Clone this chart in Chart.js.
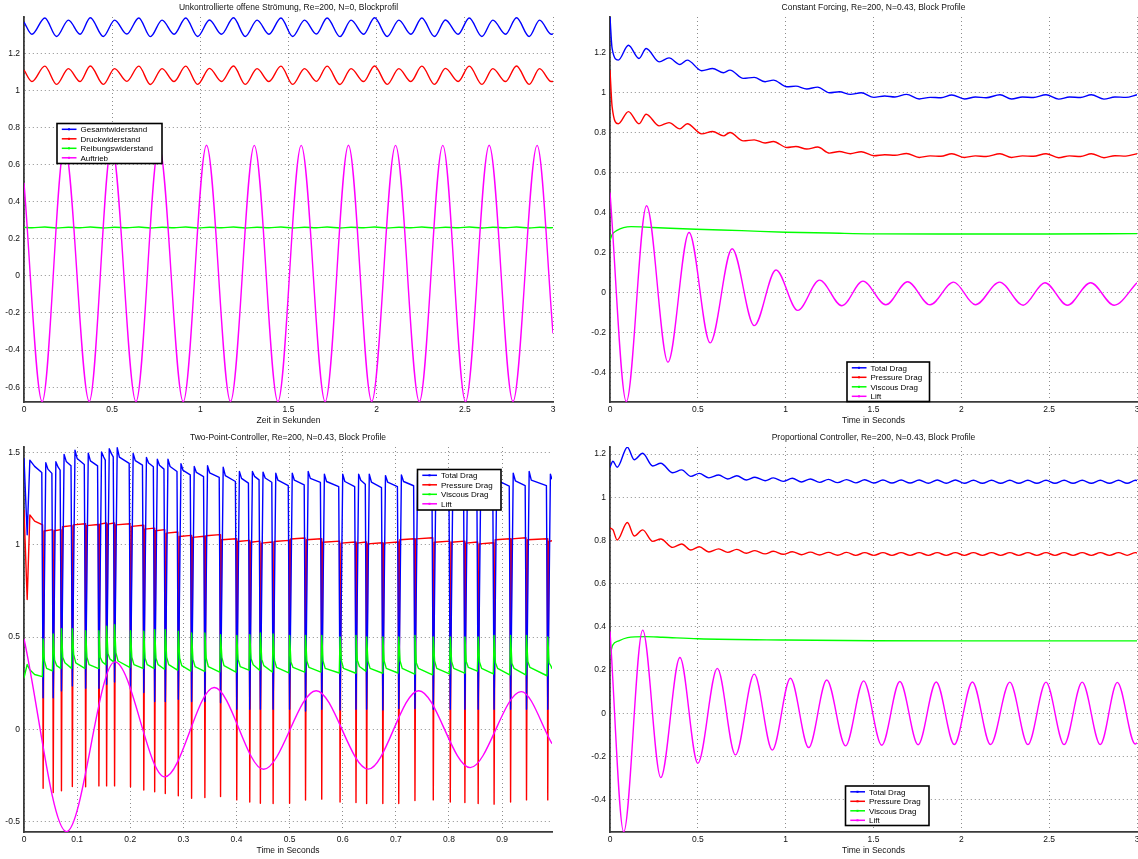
<!DOCTYPE html>
<html>
<head>
<meta charset="utf-8">
<title>Widerstand und Auftrieb</title>
<script src="https://cdn.jsdelivr.net/npm/chart.js@4.4.1/dist/chart.umd.min.js"></script>
<style>
  html, body { margin: 0; padding: 0; background: #fff; width: 1138px; height: 859px; overflow: hidden; }
  canvas { position: absolute; }
</style>
</head>
<body>
<canvas id="uncontrolled" width="569" height="430" style="left:0px;top:0px"></canvas>
<canvas id="forcing" width="581" height="430" style="left:569px;top:0px"></canvas>
<canvas id="twopoint" width="569" height="430" style="left:0px;top:430px"></canvas>
<canvas id="proportional" width="581" height="430" style="left:569px;top:430px"></canvas>
<script>
// ---------- Uncontrolled open flow, Re=200, N=0 ----------
const uncontrolledDragTime = [0, 0.045, 0.118, 0.185, 0.252, 0.318, 0.376, 0.450, 0.514, 0.583, 0.651, 0.717, 0.783, 0.851, 0.917, 0.985, 1.052, 1.120, 1.188, 1.255, 1.322, 1.389, 1.457, 1.524, 1.591, 1.658, 1.719, 1.792, 1.855, 1.926, 1.988, 2.060, 2.126, 2.194, 2.256, 2.328, 2.390, 2.462, 2.525, 2.597, 2.659, 2.731, 2.793, 2.865, 2.924, 2.990, 3.0];
const uncontrolledTotal = [1.368,
  1.302, 1.390, 1.290, 1.378, 1.302, 1.391, 1.290, 1.378, 1.303, 1.390, 1.289, 1.378,
  1.302, 1.390, 1.290, 1.379, 1.302, 1.391, 1.290, 1.378, 1.302, 1.390, 1.290, 1.378,
  1.303, 1.390, 1.289, 1.378, 1.302, 1.391, 1.290, 1.378, 1.302, 1.390, 1.290, 1.379,
  1.302, 1.390, 1.290, 1.378, 1.302, 1.391, 1.290, 1.378, 1.302, 1.304];
const uncontrolledPressure = [1.109,
  1.047, 1.130, 1.032, 1.117, 1.047, 1.131, 1.032, 1.117, 1.048, 1.130, 1.031, 1.117,
  1.047, 1.130, 1.032, 1.118, 1.047, 1.131, 1.032, 1.117, 1.047, 1.130, 1.032, 1.117,
  1.048, 1.130, 1.031, 1.117, 1.047, 1.131, 1.032, 1.117, 1.047, 1.130, 1.032, 1.118,
  1.047, 1.130, 1.032, 1.117, 1.047, 1.131, 1.032, 1.117, 1.047, 1.048];
const uncontrolledViscous = [0.261,
  0.259, 0.263, 0.258, 0.262, 0.259, 0.263, 0.258, 0.262, 0.259, 0.263, 0.258, 0.262,
  0.259, 0.263, 0.258, 0.262, 0.259, 0.263, 0.258, 0.262, 0.259, 0.263, 0.258, 0.262,
  0.259, 0.263, 0.258, 0.262, 0.259, 0.263, 0.258, 0.262, 0.259, 0.263, 0.258, 0.262,
  0.259, 0.263, 0.258, 0.262, 0.259, 0.263, 0.258, 0.262, 0.259, 0.260];
const uncontrolledLiftTime = [0, 0.103, 0.230, 0.370, 0.497, 0.635, 0.765, 0.903, 1.035, 1.171, 1.306, 1.440, 1.572, 1.708, 1.840, 1.972, 2.107, 2.242, 2.375, 2.504, 2.638, 2.773, 2.910, 3.0];
const uncontrolledLift = [0.50, -0.678, 0.703, -0.677, 0.704, -0.678, 0.703, -0.678, 0.704, -0.677, 0.703, -0.678, 0.703, -0.678, 0.704, -0.677, 0.703, -0.678, 0.703, -0.678, 0.704, -0.677, 0.703, -0.31];
const uncontrolledXTicks = [0, 0.5, 1, 1.5, 2, 2.5, 3];
const uncontrolledYTicks = [-0.6, -0.4, -0.2, 0, 0.2, 0.4, 0.6, 0.8, 1, 1.2];

// ---------- Constant forcing, Re=200, N=0.43 ----------
const forcingDragTime = [0, 0.012, 0.047, 0.105, 0.165, 0.206, 0.28, 0.336, 0.398, 0.44, 0.522, 0.584, 0.646, 0.683, 0.759, 0.821, 0.883, 0.930, 1.007, 1.058, 1.12, 1.182, 1.25, 1.306, 1.368, 1.43, 1.502, 1.564, 1.622, 1.688, 1.76, 1.822, 1.884, 1.946, 2.018, 2.08, 2.141, 2.22, 2.286, 2.348, 2.41, 2.482, 2.554, 2.616, 2.678, 2.74, 2.812, 2.874, 2.936, 3.0];
const forcingTotal = [1.376, 1.219, 1.161, 1.235, 1.169, 1.219, 1.152, 1.172, 1.139, 1.161, 1.108, 1.119, 1.098, 1.111, 1.070, 1.075, 1.053, 1.061, 1.028, 1.031, 1.017, 1.026, 0.998, 1.003, 0.990, 0.998, 0.975, 0.982, 0.977, 0.990, 0.967, 0.975, 0.973, 0.987, 0.967, 0.977, 0.973, 0.988, 0.967, 0.977, 0.974, 0.988, 0.966, 0.977, 0.974, 0.988, 0.966, 0.977, 0.975, 0.988];
const forcingPressure = [1.111, 0.929, 0.843, 0.904, 0.843, 0.891, 0.833, 0.849, 0.818, 0.843, 0.793, 0.805, 0.783, 0.800, 0.758, 0.763, 0.747, 0.755, 0.725, 0.730, 0.717, 0.727, 0.697, 0.705, 0.694, 0.704, 0.684, 0.689, 0.686, 0.695, 0.675, 0.683, 0.681, 0.694, 0.675, 0.683, 0.680, 0.694, 0.675, 0.683, 0.681, 0.694, 0.674, 0.683, 0.680, 0.694, 0.674, 0.684, 0.682, 0.694];
const forcingViscousTime = [0, 0.012, 0.037, 0.12, 0.24, 0.49, 0.75, 1.0, 1.25, 1.5, 2.0, 2.5, 3.0];
const forcingViscous = [0.262, 0.29, 0.31, 0.33, 0.326, 0.317, 0.31, 0.302, 0.298, 0.294, 0.293, 0.293, 0.295];
const forcingLiftTime = [0, 0.093, 0.208, 0.33, 0.45, 0.57, 0.695, 0.821, 0.945, 1.069, 1.193, 1.32, 1.44, 1.57, 1.694, 1.822, 1.956, 2.08, 2.218, 2.352, 2.476, 2.604, 2.736, 2.87, 3.0];
const forcingLift = [0.50, -0.543, 0.434, -0.346, 0.301, -0.25, 0.220, -0.164, 0.114, -0.088, 0.063, -0.065, 0.058, -0.060, 0.055, -0.060, 0.053, -0.060, 0.053, -0.062, 0.050, -0.062, 0.050, -0.062, 0.050];
const forcingXTicks = [0, 0.5, 1, 1.5, 2, 2.5, 3];
const forcingYTicks = [-0.4, -0.2, 0, 0.2, 0.4, 0.6, 0.8, 1, 1.2];

// ---------- Two-point controller, Re=200, N=0.43 ----------
const controllerStartTime = [0, 0.006, 0.011, 0.02];
const controllerStartTotal = [1.47, 1.054, 1.459, 1.425];
const controllerStartPressure = [1.19, 0.703, 1.162, 1.128];
const controllerStartViscous = [0.279, 0.351, 0.322, 0.297];
const switchTime = [0.036, 0.055, 0.0705, 0.091, 0.116, 0.141, 0.1555, 0.1705, 0.2005, 0.2255,
  0.246, 0.266, 0.2905, 0.3155, 0.3405, 0.370, 0.4005, 0.425, 0.445, 0.469,
  0.500, 0.530, 0.5605, 0.595, 0.625, 0.645, 0.6755, 0.7055, 0.736, 0.7705,
  0.8025, 0.830, 0.855, 0.885, 0.916, 0.946, 0.986];
// sampling around each switching instant: [lead before, lag after, decay sample]
const totalSwitchTiming = [0.0025, 0.005, 0.009];
const pressureSwitchTiming = [0.001, 0.002, null];
const viscousSwitchTiming = [0.0015, 0.0025, 0.0065];
const totalBeforeSwitch = [1.392, 1.387, 1.405, 1.428, 1.435, 1.428, 1.459, 1.477, 1.441, 1.432,
  1.423, 1.41, 1.397, 1.379, 1.37, 1.365, 1.343, 1.334, 1.352, 1.339,
  1.32, 1.325, 1.338, 1.315, 1.315, 1.328, 1.31, 1.315, 1.32, 1.316,
  1.316, 1.318, 1.329, 1.316, 1.318, 1.32, 1.321];
const totalAtSwitch = [0.171, 0.171, 0.208, 0.235, 0.222, 0.222, 0.244, 0.256, 0.217, 0.199,
  0.15, 0.15, 0.162, 0.15, 0.15, 0.144, 0.108, 0.108, 0.108, 0.108,
  0.108, 0.099, 0.108, 0.105, 0.108, 0.108, 0.105, 0.112, 0.112, 0.108,
  0.108, 0.108, 0.108, 0.108, 0.108, 0.108, 0.108];
const totalAfterSwitch = [1.445, 1.45, 1.49, 1.513, 1.496, 1.503, 1.521, 1.526, 1.495, 1.473,
  1.464, 1.464, 1.439, 1.424, 1.428, 1.42, 1.397, 1.397, 1.394, 1.388,
  1.388, 1.397, 1.383, 1.383, 1.383, 1.383, 1.375, 1.379, 1.388, 1.385,
  1.38, 1.376, 1.37, 1.385, 1.388, 1.397, 1.383];
const totalDecaying = [1.41, 1.422, 1.452, 1.468, 1.455, 1.476, 1.494, 1.475, 1.456, 1.443,
  1.431, 1.424, 1.403, 1.392, 1.39, 1.375, 1.36, 1.371, 1.362, 1.35,
  1.35, 1.36, 1.343, 1.343, 1.35, 1.34, 1.34, 1.343, 1.345, 1.344,
  1.344, 1.348, 1.338, 1.345, 1.347, 1.35, 1.362];
const pressureBeforeSwitch = [1.108, 1.082, 1.082, 1.104, 1.114, 1.11, 1.118, 1.118, 1.114, 1.106,
  1.09, 1.082, 1.069, 1.051, 1.046, 1.055, 1.033, 1.024, 1.02, 1.015,
  1.024, 1.037, 1.033, 1.02, 1.015, 1.015, 1.011, 1.015, 1.033, 1.038,
  1.02, 1.02, 1.015, 1.011, 1.033, 1.038, 1.033];
const pressureAtSwitch = [-0.32, -0.343, -0.334, -0.31, -0.312, -0.307, -0.307, -0.307, -0.312, -0.329,
  -0.339, -0.348, -0.361, -0.374, -0.37, -0.365, -0.383, -0.394, -0.401, -0.403,
  -0.401, -0.384, -0.379, -0.394, -0.397, -0.403, -0.403, -0.403, -0.386, -0.383,
  -0.394, -0.397, -0.403, -0.406, -0.394, -0.383, -0.383];
const pressureAfterSwitch = [1.075, 1.076, 1.098, 1.108, 1.104, 1.112, 1.112, 1.108, 1.1, 1.085,
  1.076, 1.063, 1.045, 1.04, 1.049, 1.027, 1.018, 1.014, 1.009, 1.018,
  1.031, 1.027, 1.014, 1.009, 1.009, 1.005, 1.009, 1.027, 1.032, 1.014,
  1.014, 1.009, 1.005, 1.027, 1.032, 1.027, 1.018];
const viscousBeforeSwitch = [0.285, 0.316, 0.33, 0.33, 0.33, 0.33, 0.35, 0.365, 0.335, 0.33,
  0.33, 0.325, 0.32, 0.315, 0.315, 0.31, 0.31, 0.32, 0.32, 0.31,
  0.305, 0.31, 0.31, 0.305, 0.305, 0.315, 0.305, 0.305, 0.3, 0.295,
  0.3, 0.305, 0.315, 0.3, 0.295, 0.295, 0.29];
const viscousAtSwitch = [0.489, 0.516, 0.545, 0.545, 0.534, 0.534, 0.558, 0.567, 0.534, 0.531,
  0.54, 0.54, 0.531, 0.522, 0.522, 0.513, 0.509, 0.513, 0.522, 0.516,
  0.509, 0.509, 0.509, 0.5, 0.509, 0.5, 0.5, 0.5, 0.509, 0.5,
  0.5, 0.5, 0.5, 0.509, 0.509, 0.509, 0.5];
const viscousAfterSwitch = [0.37, 0.375, 0.39, 0.405, 0.39, 0.39, 0.41, 0.415, 0.39, 0.385,
  0.385, 0.39, 0.385, 0.38, 0.385, 0.39, 0.38, 0.382, 0.38, 0.375,
  0.365, 0.37, 0.37, 0.372, 0.374, 0.37, 0.37, 0.37, 0.36, 0.37,
  0.368, 0.367, 0.365, 0.36, 0.358, 0.367, 0.36];
const viscousDecaying = [0.33, 0.345, 0.36, 0.36, 0.35, 0.365, 0.38, 0.37, 0.35, 0.35,
  0.35, 0.35, 0.345, 0.34, 0.34, 0.345, 0.34, 0.35, 0.345, 0.335,
  0.335, 0.335, 0.33, 0.33, 0.34, 0.33, 0.33, 0.33, 0.33, 0.33,
  0.33, 0.335, 0.33, 0.33, 0.33, 0.335, 0.34];
const controllerEndTime = 0.994;
const controllerEndTotal = 1.355;
const controllerEndPressure = 1.022;
const controllerEndViscous = 0.328;
const controllerLiftTime = [0, 0.08, 0.171, 0.265, 0.358, 0.451, 0.55, 0.648, 0.743, 0.84, 0.936, 0.994];
const controllerLift = [0.49, -0.555, 0.365, -0.258, 0.226, -0.217, 0.209, -0.216, 0.209, -0.208, 0.204, -0.078];
const controllerXTicks = [0, 0.1, 0.2, 0.3, 0.4, 0.5, 0.6, 0.7, 0.8, 0.9];
const controllerYTicks = [-0.5, 0, 0.5, 1, 1.5];

// ---------- Proportional controller, Re=200, N=0.43 ----------
const propDragTime = [0, 0.0165, 0.041, 0.099, 0.138, 0.186, 0.243, 0.289, 0.357, 0.408, 0.460, 0.508, 0.563, 0.619, 0.670, 0.722, 0.776, 0.825, 0.883, 0.930, 0.986, 1.038, 1.090, 1.141, 1.193, 1.244, 1.296, 1.347, 1.399, 1.450, 1.502, 1.554, 1.605, 1.657, 1.708, 1.760, 1.812, 1.863, 1.914, 1.966, 2.017, 2.069, 2.120, 2.172, 2.224, 2.276, 2.327, 2.379, 2.430, 2.482, 2.533, 2.585, 2.636, 2.688, 2.740, 2.791, 2.843, 2.895, 2.944, 2.992, 3.0];
const propTotal = [1.139, 1.167, 1.139, 1.232, 1.174, 1.204, 1.145, 1.158, 1.114, 1.127, 1.097, 1.111, 1.090, 1.103, 1.085, 1.100, 1.080, 1.093, 1.077, 1.090, 1.074, 1.088, 1.071, 1.085, 1.069, 1.083, 1.068, 1.082, 1.067, 1.081, 1.066, 1.080, 1.066, 1.080, 1.066, 1.080, 1.065, 1.080, 1.065, 1.080, 1.065, 1.079, 1.065, 1.079, 1.065, 1.079, 1.065, 1.079, 1.065, 1.079, 1.065, 1.079, 1.065, 1.079, 1.065, 1.079, 1.065, 1.079, 1.065, 1.079, 1.077];
const propPressure = [0.858, 0.850, 0.802, 0.883, 0.821, 0.849, 0.796, 0.807, 0.768, 0.784, 0.756, 0.771, 0.747, 0.761, 0.745, 0.759, 0.741, 0.753, 0.738, 0.750, 0.736, 0.748, 0.734, 0.746, 0.733, 0.745, 0.732, 0.745, 0.731, 0.744, 0.731, 0.744, 0.731, 0.744, 0.731, 0.744, 0.731, 0.744, 0.731, 0.744, 0.731, 0.744, 0.731, 0.744, 0.731, 0.744, 0.731, 0.744, 0.731, 0.744, 0.731, 0.744, 0.731, 0.744, 0.731, 0.744, 0.731, 0.744, 0.731, 0.744, 0.742];
const propViscousTime = [0, 0.015, 0.05, 0.1, 0.2, 0.3, 0.5, 1.0, 1.5, 2.0, 3.0];
const propViscous = [0.268, 0.315, 0.335, 0.350, 0.355, 0.352, 0.345, 0.339, 0.336, 0.335, 0.335];
const propLiftTime = [0, 0.078, 0.186, 0.289, 0.398, 0.5, 0.611, 0.714, 0.821, 0.924, 1.027, 1.131, 1.234, 1.341, 1.444, 1.547, 1.65, 1.754, 1.857, 1.96, 2.063, 2.166, 2.276, 2.379, 2.482, 2.585, 2.688, 2.791, 2.888, 2.99, 3.0];
const propLift = [0.38, -0.549, 0.385, -0.298, 0.258, -0.232, 0.208, -0.193, 0.181, -0.171, 0.162, -0.159, 0.154, -0.151, 0.150, -0.148, 0.147, -0.146, 0.145, -0.145, 0.145, -0.145, 0.144, -0.145, 0.144, -0.145, 0.144, -0.145, 0.143, -0.143, -0.137];
const propXTicks = [0, 0.5, 1, 1.5, 2, 2.5, 3];
const propYTicks = [-0.4, -0.2, 0, 0.2, 0.4, 0.6, 0.8, 1, 1.2];

// ---------- styling ----------
const FONT_FAMILY = "'Liberation Sans', Arial, Helvetica, sans-serif";
const TEXT_COLOR = '#111';
const GRID_COLOR = 'rgba(0,0,0,0.45)';
const AXIS_COLOR = '#3a3a3a';
const COLORS = { total: '#0000ff', pressure: '#ff0000', viscous: '#00ff00', lift: '#ff00ff' };

Chart.defaults.font.family = FONT_FAMILY;
Chart.defaults.color = TEXT_COLOR;

const toPoints = (xs, ys) => xs.map((x, i) => ({ x, y: ys[i] }));
const fmtTick = (v) => String(Number(Number(v).toFixed(3)));

// Switching signals: start-up transient, then one dip/jump per switching instant and its decay.
function switchingPoints(startValues, timing, before, atSwitch, after, decaying, endValue) {
  const [lead, lag, decayAt] = timing;
  const pts = toPoints(controllerStartTime, startValues);
  switchTime.forEach((s, k) => {
    pts.push({ x: s - lead, y: before[k] });
    pts.push({ x: s, y: atSwitch[k] });
    if (s + lag < controllerEndTime) pts.push({ x: s + lag, y: after[k] });
    if (decaying && s + decayAt < controllerEndTime) pts.push({ x: s + decayAt, y: decaying[k] });
  });
  pts.push({ x: controllerEndTime, y: endValue });
  return pts;
}

function series(label, color, order, data, smooth) {
  return {
    label, data, order,
    borderColor: color, backgroundColor: color,
    borderWidth: 1.4, pointRadius: 0, fill: false,
    tension: 0, cubicInterpolationMode: smooth ? 'monotone' : 'default',
    borderJoinStyle: 'round'
  };
}

// Legend drawn as a framed box inside the plot area.
const boxedLegend = {
  id: 'boxedLegend',
  afterDraw(chart, args, opts) {
    if (!opts || !opts.box) return;
    const { ctx } = chart;
    const [bx, by, bw, bh] = opts.box;
    ctx.save();
    ctx.fillStyle = '#fff';
    ctx.fillRect(bx, by, bw, bh);
    ctx.lineWidth = 1.6;
    ctx.strokeStyle = '#000';
    ctx.strokeRect(bx, by, bw, bh);
    ctx.font = '8px ' + FONT_FAMILY;
    ctx.textBaseline = 'middle';
    ctx.textAlign = 'left';
    chart.data.datasets.forEach((ds, i) => {
      const y = by + 5.8 + i * 9.5;
      ctx.strokeStyle = ds.borderColor;
      ctx.lineWidth = 1.5;
      ctx.beginPath();
      ctx.moveTo(bx + 4.8, y);
      ctx.lineTo(bx + 19.5, y);
      ctx.stroke();
      ctx.fillStyle = ds.borderColor;
      ctx.fillRect(bx + 11, y - 1, 2, 2);
      ctx.fillStyle = '#000';
      ctx.fillText(ds.label, bx + 23.5, y + 0.5);
    });
    ctx.restore();
  }
};

function buildChart(id, cfg) {
  const tickFont = { size: 8.5, family: FONT_FAMILY };
  return new Chart(document.getElementById(id), {
    type: 'line',
    data: { datasets: cfg.datasets },
    options: {
      responsive: false,
      animation: false,
      devicePixelRatio: 1,
      events: [],
      layout: { padding: { left: 0, right: cfg.padRight, top: 0, bottom: 0 } },
      plugins: {
        legend: { display: false },
        tooltip: { enabled: false },
        title: {
          display: true, text: cfg.title, fullSize: false, color: TEXT_COLOR,
          font: { size: 8.5, weight: 'normal', family: FONT_FAMILY },
          padding: { top: 3, bottom: 3.8 }
        },
        boxedLegend: cfg.legend
      },
      scales: {
        x: {
          type: 'linear', min: cfg.xMin, max: cfg.xMax,
          afterBuildTicks: (s) => { s.ticks = cfg.xTicks.map((v) => ({ value: v })); },
          afterFit: (s) => { s.height = 28; },
          ticks: { callback: fmtTick, font: tickFont, color: TEXT_COLOR, padding: 3, maxRotation: 0, autoSkip: false },
          grid: { color: GRID_COLOR, lineWidth: 1, drawTicks: false },
          border: { display: true, color: AXIS_COLOR, width: 1.8, dash: [1, 3] },
          title: { display: true, text: cfg.xTitle, color: TEXT_COLOR, font: { size: 8.5, family: FONT_FAMILY }, padding: { top: 0, bottom: 4 } }
        },
        y: {
          type: 'linear', min: cfg.yMin, max: cfg.yMax,
          afterBuildTicks: (s) => { s.ticks = cfg.yTicks.map((v) => ({ value: v })); },
          afterFit: (s) => { s.width = cfg.yAxisWidth; },
          ticks: { callback: fmtTick, font: tickFont, color: TEXT_COLOR, padding: 4, autoSkip: false },
          grid: { color: GRID_COLOR, lineWidth: 1, drawTicks: false },
          border: { display: true, color: AXIS_COLOR, width: 1.8, dash: [1, 3] }
        }
      }
    },
    plugins: [boxedLegend]
  });
}

buildChart('uncontrolled', {
  title: 'Unkontrollierte offene Strömung, Re=200, N=0, Blockprofil',
  xTitle: 'Zeit in Sekunden',
  xMin: 0, xMax: 3, xTicks: uncontrolledXTicks,
  yMin: -0.68, yMax: 1.395, yTicks: uncontrolledYTicks,
  yAxisWidth: 24, padRight: 16,
  legend: { box: [57, 123.5, 105, 40] },
  datasets: [
    series('Gesamtwiderstand', COLORS.total, 2, toPoints(uncontrolledDragTime, uncontrolledTotal), true),
    series('Druckwiderstand', COLORS.pressure, 3, toPoints(uncontrolledDragTime, uncontrolledPressure), true),
    series('Reibungswiderstand', COLORS.viscous, 1, toPoints(uncontrolledDragTime, uncontrolledViscous), true),
    series('Auftrieb', COLORS.lift, 0, toPoints(uncontrolledLiftTime, uncontrolledLift), true)
  ]
});

buildChart('forcing', {
  title: 'Constant Forcing, Re=200, N=0.43, Block Profile',
  xTitle: 'Time in Seconds',
  xMin: 0, xMax: 3, xTicks: forcingXTicks,
  yMin: -0.545, yMax: 1.376, yTicks: forcingYTicks,
  yAxisWidth: 41, padRight: 13,
  legend: { box: [278, 362, 82.5, 39.5] },
  datasets: [
    series('Total Drag', COLORS.total, 2, toPoints(forcingDragTime, forcingTotal), true),
    series('Pressure Drag', COLORS.pressure, 3, toPoints(forcingDragTime, forcingPressure), true),
    series('Viscous Drag', COLORS.viscous, 1, toPoints(forcingViscousTime, forcingViscous), true),
    series('Lift', COLORS.lift, 0, toPoints(forcingLiftTime, forcingLift), true)
  ]
});

buildChart('twopoint', {
  title: 'Two-Point-Controller, Re=200, N=0.43, Block Profile',
  xTitle: 'Time in Seconds',
  xMin: 0, xMax: controllerEndTime, xTicks: controllerXTicks,
  yMin: -0.557, yMax: 1.53, yTicks: controllerYTicks,
  yAxisWidth: 24, padRight: 17,
  legend: { box: [417.5, 39.5, 83.5, 40.5] },
  datasets: [
    series('Total Drag', COLORS.total, 2,
      switchingPoints(controllerStartTotal, totalSwitchTiming, totalBeforeSwitch, totalAtSwitch, totalAfterSwitch, totalDecaying, controllerEndTotal), false),
    series('Pressure Drag', COLORS.pressure, 3,
      switchingPoints(controllerStartPressure, pressureSwitchTiming, pressureBeforeSwitch, pressureAtSwitch, pressureAfterSwitch, null, controllerEndPressure), false),
    series('Viscous Drag', COLORS.viscous, 1,
      switchingPoints(controllerStartViscous, viscousSwitchTiming, viscousBeforeSwitch, viscousAtSwitch, viscousAfterSwitch, viscousDecaying, controllerEndViscous), false),
    series('Lift', COLORS.lift, 0, toPoints(controllerLiftTime, controllerLift), true)
  ]
});

buildChart('proportional', {
  title: 'Proportional Controller, Re=200, N=0.43, Block Profile',
  xTitle: 'Time in Seconds',
  xMin: 0, xMax: 3, xTicks: propXTicks,
  yMin: -0.55, yMax: 1.233, yTicks: propYTicks,
  yAxisWidth: 41, padRight: 13,
  legend: { box: [276.5, 356, 83.5, 39.5] },
  datasets: [
    series('Total Drag', COLORS.total, 2, toPoints(propDragTime, propTotal), true),
    series('Pressure Drag', COLORS.pressure, 3, toPoints(propDragTime, propPressure), true),
    series('Viscous Drag', COLORS.viscous, 1, toPoints(propViscousTime, propViscous), true),
    series('Lift', COLORS.lift, 0, toPoints(propLiftTime, propLift), true)
  ]
});
</script>
</body>
</html>
